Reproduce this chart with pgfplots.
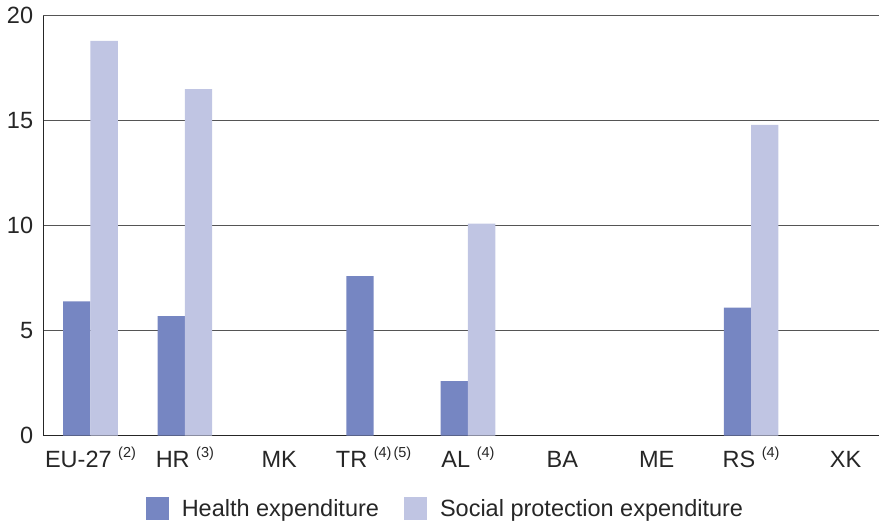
\documentclass[border=0pt]{standalone}
\usepackage{pgfplots}
\pgfplotsset{compat=1.18}
\usepackage{fontspec}
\setmainfont{Liberation Sans}
\definecolor{health}{RGB}{118,134,194}
\definecolor{social}{RGB}{192,197,227}
\definecolor{gridc}{RGB}{85,85,85}
\newcommand\fn[1]{\raisebox{10bp}{\fontsize{14.5bp}{14.5bp}\selectfont(#1)}}
\begin{document}
\begin{tikzpicture}
\begin{axis}[
  at={(0,0)}, anchor=south west,
  scale only axis,
  width=835.7bp, height=420bp,
  ybar=0pt, bar width=27.3bp,
  xmin=-0.5, xmax=8.355,
  ymin=0, ymax=20,
  ytick={0,5,10,15,20},
  xtick={0,1,2,3,4,5,6,7,8},
  xticklabels={{EU-27 \fn{2}},{HR \fn{3}},{MK},{TR \fn{4}\kern2bp\fn{5}},{AL \fn{4}},{BA},{ME},{RS \fn{4}},{XK}},
  major tick length=0pt,
  ymajorgrids,
  grid style={gridc, line width=0.9bp},
  axis x line*=bottom, axis y line*=left,
  axis line style={black!85, line width=1bp},
  every axis plot/.append style={draw=none},
  tick label style={font=\fontsize{23.5bp}{25bp}\selectfont, text=black!85},
  /pgf/number format/assume math mode=true,
  yticklabel style={inner sep=0pt, anchor=east, xshift=-10bp},
  xticklabel style={anchor=base, yshift=-31.6bp},
  legend style={at={(0.480,-0.1734)}, anchor=center, draw=none, fill=none,
    font=\fontsize{23.5bp}{25bp}\selectfont, text=black!85,
    nodes={inner sep=0pt},
    legend columns=2,
    /tikz/every odd column/.append style={column sep=13bp},
    /tikz/every even column/.append style={column sep=25bp}},
  legend image code/.code={\fill[#1] (0bp,-10.9bp) rectangle (23bp,12.1bp);},
]
\addplot[fill=health] coordinates {(0,6.4) (1,5.7) (3,7.6) (4,2.6) (7,6.1)};
\addplot[fill=social] coordinates {(0,18.8) (1,16.5) (4,10.1) (7,14.8)};
\legend{Health expenditure, Social protection expenditure}
\end{axis}
\pgfresetboundingbox
\path (-43.3bp,-86.3bp) rectangle (835.7bp,435.7bp);
\end{tikzpicture}
\end{document}
